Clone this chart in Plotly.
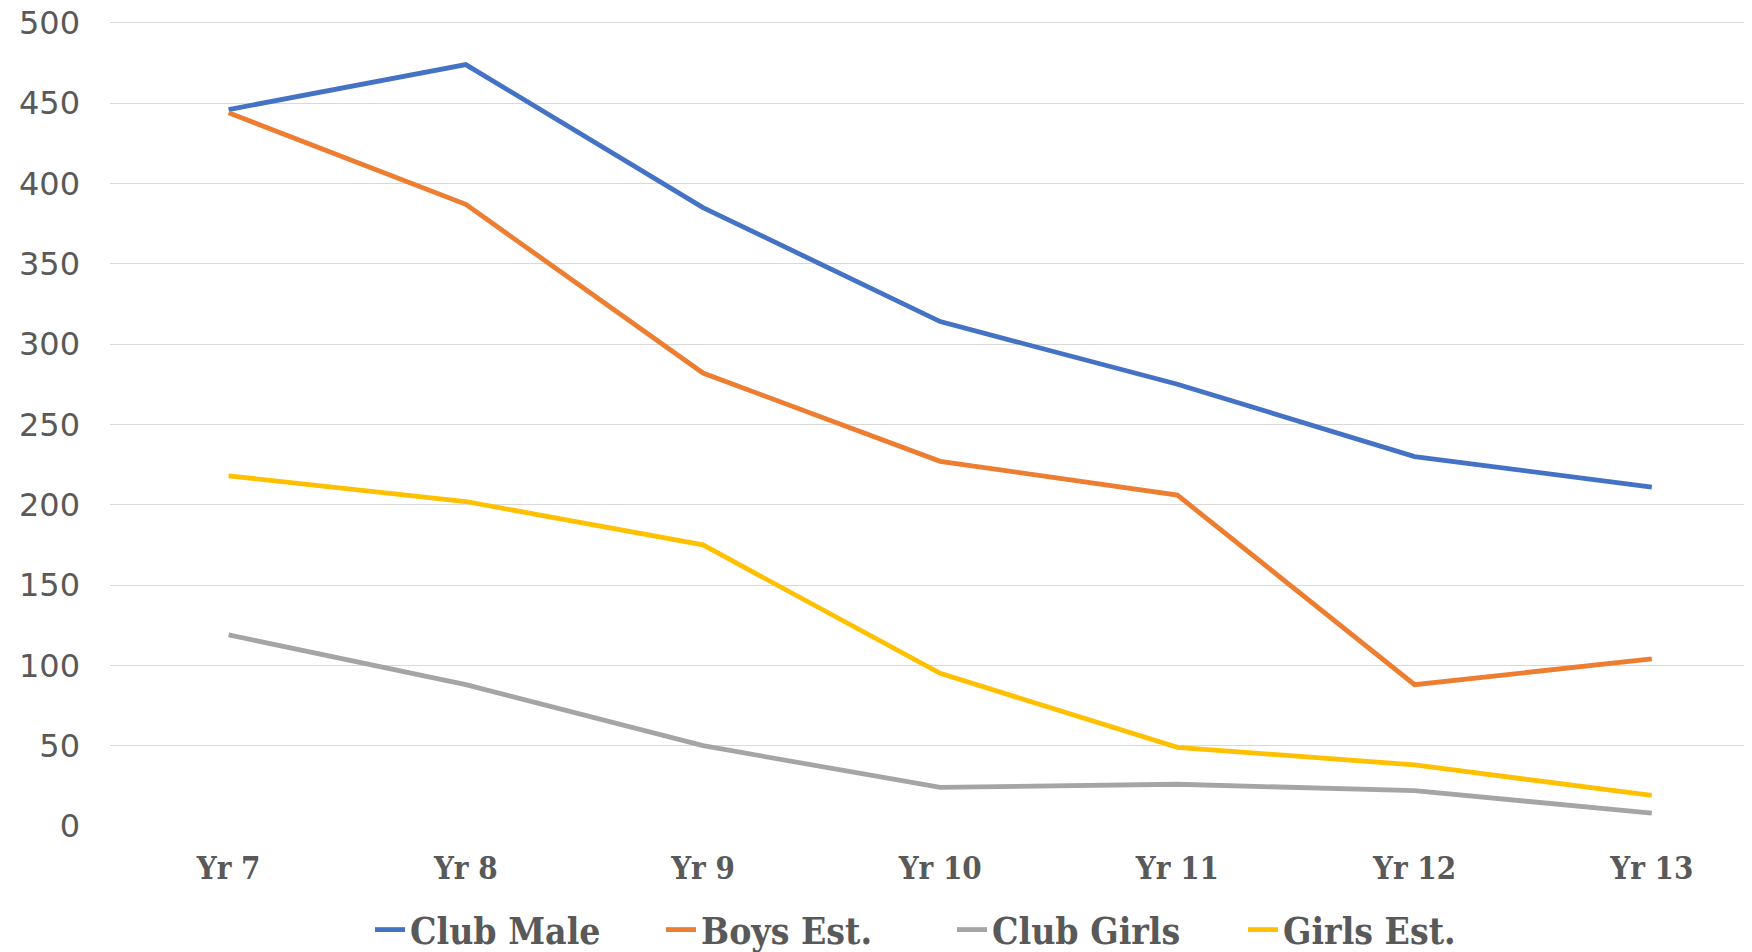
import plotly.graph_objects as go

categories = ["Yr 7", "Yr 8", "Yr 9", "Yr 10", "Yr 11", "Yr 12", "Yr 13"]
club_male = [446, 474, 385, 314, 275, 230, 211]
boys_est = [444, 387, 282, 227, 206, 88, 104]
club_girls = [119, 88, 50, 24, 26, 22, 8]
girls_est = [218, 202, 175, 95, 49, 38, 19]
y_ticks = [0, 50, 100, 150, 200, 250, 300, 350, 400, 450, 500]

series = [
    ("Club Male", club_male, "#4472C4"),
    ("Boys Est.", boys_est, "#ED7D31"),
    ("Club Girls", club_girls, "#A5A5A5"),
    ("Girls Est.", girls_est, "#FFC000"),
]

# page body has an 8px margin, so the figure is sized to fit the window
OFF = 8
W, H = 1752 - OFF, 952 - OFF
Y_TOP = 503                      # a bit above 500 so the top grid line is drawn
px_per_unit = 803 / 500
ML, MB = 110 - OFF, 126
plot_h = px_per_unit * Y_TOP
MT = H - MB - plot_h
plot_w = W - ML
step = 237.2

fig = go.Figure()
for name, vals, color in series:
    fig.add_trace(go.Scatter(
        x=list(range(len(categories))), y=vals, name=name, mode="lines",
        line=dict(color=color, width=4.8), hoverinfo="skip",
    ))

text_col = "#595959"
serif = "DejaVu Serif Condensed, DejaVu Serif, serif"
fig.update_layout(
    width=W, height=H,
    margin=dict(l=ML, r=0, t=MT, b=MB, pad=0, autoexpand=False),
    plot_bgcolor="white", paper_bgcolor="white",
    showlegend=True,
    legend=dict(
        orientation="h", x=(370 - OFF - ML) / plot_w, xanchor="left",
        y=(H - MB - (930 - OFF)) / plot_h, yanchor="middle",
        font=dict(family=serif, size=37, color=text_col, weight="bold"),
        entrywidth=246, entrywidthmode="pixels",
        bgcolor="rgba(0,0,0,0)", borderwidth=0,
        itemclick=False, itemdoubleclick=False,
    ),
    xaxis=dict(
        range=[-0.5, -0.5 + plot_w / step], automargin=False,
        tickmode="array", tickvals=list(range(len(categories))), ticktext=categories,
        showgrid=False, zeroline=False, showline=False, ticks="",
        tickfont=dict(family=serif, size=31, color=text_col, weight="bold"),
        ticklabelstandoff=21,
    ),
    yaxis=dict(
        range=[0, Y_TOP], tickmode="array", tickvals=y_ticks, automargin=False,
        showgrid=True, gridcolor="#D9D9D9", gridwidth=1.4,
        zeroline=False, showline=False, ticks="",
        tickfont=dict(family="DejaVu Sans", size=32, color=text_col),
        ticklabelstandoff=29, ticklabeloverflow="allow",
    ),
)

fig.write_html("out.html")
